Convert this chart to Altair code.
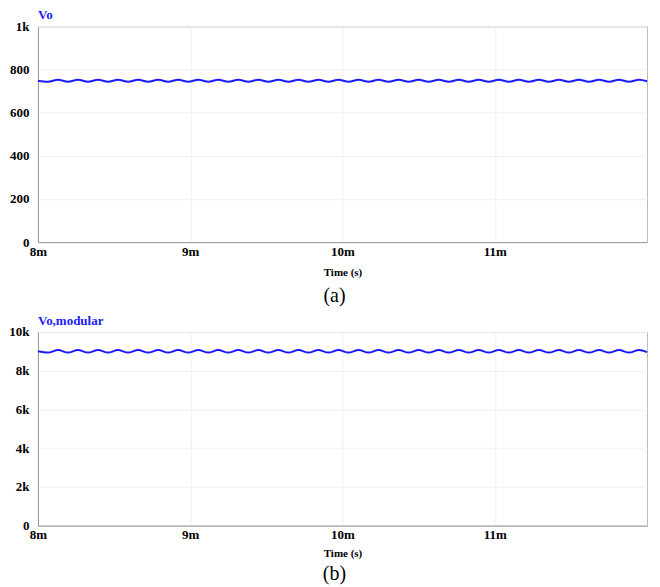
import altair as alt
import pandas as pd

# time axis in ms (peak / trough positions of the ripple)
time_ms = [8.000, 8.066, 8.132, 8.197, 8.263, 8.329, 8.395, 8.461, 8.526, 8.592,
           8.658, 8.724, 8.790, 8.855, 8.921, 8.987, 9.053, 9.119, 9.184, 9.250,
           9.316, 9.382, 9.448, 9.513, 9.579, 9.645, 9.711, 9.777, 9.842, 9.908,
           9.974, 10.040, 10.106, 10.171, 10.237, 10.303, 10.369, 10.435, 10.500, 10.566,
           10.632, 10.698, 10.764, 10.829, 10.895, 10.961, 11.027, 11.093, 11.158, 11.224,
           11.290, 11.356, 11.422, 11.487, 11.553, 11.619, 11.685, 11.751, 11.816, 11.882,
           11.948, 12.000]

vo = [748, 743, 753, 743, 753, 743, 753, 743, 753, 743,
      753, 743, 753, 743, 753, 743, 753, 743, 753, 743,
      753, 743, 753, 743, 753, 743, 753, 743, 753, 743,
      753, 743, 753, 743, 753, 743, 753, 743, 753, 743,
      753, 743, 753, 743, 753, 743, 753, 743, 753, 743,
      753, 743, 753, 743, 753, 743, 753, 743, 753, 743,
      753, 746]

vo_mod = [9000, 8935, 9065, 8935, 9065, 8935, 9065, 8935, 9065, 8935,
          9065, 8935, 9065, 8935, 9065, 8935, 9065, 8935, 9065, 8935,
          9065, 8935, 9065, 8935, 9065, 8935, 9065, 8935, 9065, 8935,
          9065, 8935, 9065, 8935, 9065, 8935, 9065, 8935, 9065, 8935,
          9065, 8935, 9065, 8935, 9065, 8935, 9065, 8935, 9065, 8935,
          9065, 8935, 9065, 8935, 9065, 8935, 9065, 8935, 9065, 8935,
          9065, 8960]

x_ticks = [8, 9, 10, 11]
y_ticks_a = [0, 200, 400, 600, 800, 1000]
y_ticks_b = [0, 2000, 4000, 6000, 8000, 10000]

df = pd.DataFrame({"t": time_ms, "vo": vo, "vom": vo_mod})

BLUE = "#1a1aff"
FONT = "Liberation Serif"

W = 610


def panel(field, title, ymax, yticks, h, caption, cap_dy, tpad):
    xenc = alt.X("t:Q", scale=alt.Scale(domain=[8, 12], nice=False, zero=False),
                 axis=alt.Axis(values=x_ticks, labelExpr="datum.value + 'm'", labelFlush=False,
                               title="Time (s)", titlePadding=tpad))
    yenc = alt.Y(f"{field}:Q", scale=alt.Scale(domain=[0, ymax], nice=False),
                 axis=alt.Axis(values=yticks,
                               labelExpr="datum.value == 0 ? '0' : (datum.value >= 1000 ? datum.value/1000 + 'k' : datum.value)",
                               title=None))
    line = alt.Chart(df).mark_line(color=BLUE, strokeWidth=2, interpolate="monotone").encode(
        x=xenc, y=yenc)
    cap = alt.Chart(pd.DataFrame({"c": [caption]})).mark_text(
        font=FONT, fontSize=20, fontWeight="normal", color="black", baseline="middle", align="center"
    ).encode(x=alt.value(W / 2 - 8), y=alt.value(h + cap_dy), text="c:N")
    return alt.layer(line, cap).properties(
        width=W, height=h,
        title=alt.TitleParams(title, anchor="start", font=FONT, fontSize=13, fontWeight="bold",
                              color=BLUE, offset=-2, frame="group"))


top = panel("vo", "Vo", 1000, y_ticks_a, 216, "(a)", 54, 8)
bot = panel("vom", "Vo,modular", 10000, y_ticks_b, 194, "(b)", 48, 6)

chart = alt.vconcat(top, bot, spacing=7).properties(
    padding={"left": 0, "top": 0, "right": 0, "bottom": 0}
).configure_view(
    stroke="#bbbbbb", strokeWidth=1
).configure_axis(
    labelFont=FONT, labelFontWeight="bold", labelFontSize=13, labelColor="black",
    titleFont=FONT, titleFontWeight="bold", titleFontSize=11, titleColor="black",
    ticks=False, domainColor="#999999", gridColor="#f0f0f0", labelPadding=3,
    titlePadding=6
).configure_axisY(labelPadding=9)

chart.save("out.html", embed_options={"renderer": "svg", "actions": False})
